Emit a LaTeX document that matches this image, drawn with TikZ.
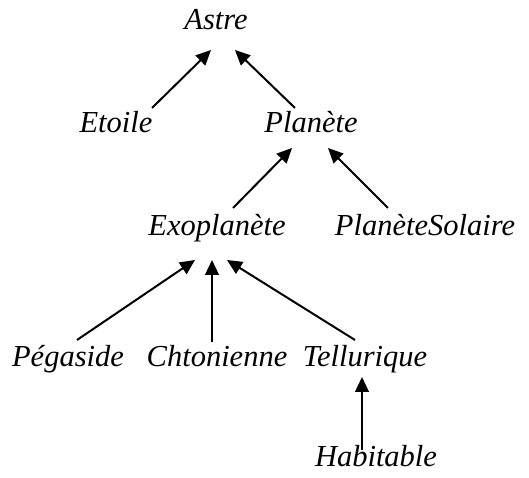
\documentclass[tikz,border=0pt]{standalone}
\usepackage{fontspec}
\setmainfont{Liberation Serif}
\usetikzlibrary{arrows.meta,positioning}

\begin{document}
\begin{tikzpicture}[x=0.4pt,y=-0.4pt,
        cls/.style={inner sep=0pt,anchor=base,font=\fontsize{12.2}{14}\selectfont\itshape},
        isa/.style={-{Triangle[length=6pt,width=5.5pt]},line width=0.8pt}]
    \useasboundingbox (0,0) rectangle (529,478);
        \node[cls] (astre)    at (216,30)  {Astre};
        \node[cls] (etoile)   at (116,133) {Etoile};
        \node[cls] (planete)  at (311,133) {Planète};
        \node[cls] (exo)      at (217,236) {Exoplanète};
        \node[cls] (solaire)  at (425,236) {PlanèteSolaire};
        \node[cls] (pegaside) at (68,367)  {Pégaside};
        \node[cls] (chto)     at (217,367) {Chtonienne};
        \node[cls] (tellu)    at (365,367) {Tellurique};
        \node[cls] (habit)    at (376,467) {Habitable};
        \path[isa]
            ([shift={(36,-25)}]etoile.base)
                edge ([shift={(-5,20)}]astre.base)
            ([shift={(-16,-25)}]planete.base)
                edge ([shift={(19,20)}]astre.base)
            ([shift={(16,-28)}]exo.base)
                edge ([shift={(-19,15)}]planete.base)
            ([shift={(-37,-28)}]solaire.base)
                edge ([shift={(17,15)}]planete.base)
            ([shift={(9,-27)}]pegaside.base)
                edge ([shift={(-22,24)}]exo.base)
            ([shift={(-5,-25)}]chto.base)
                edge ([shift={(-5,24)}]exo.base)
            ([shift={(-10,-27)}]tellu.base)
                edge ([shift={(10,24)}]exo.base)
            ([shift={(-14,-17)}]habit.base)
                edge ([shift={(-3,10)}]tellu.base);
    \end{tikzpicture}
\end{document}
